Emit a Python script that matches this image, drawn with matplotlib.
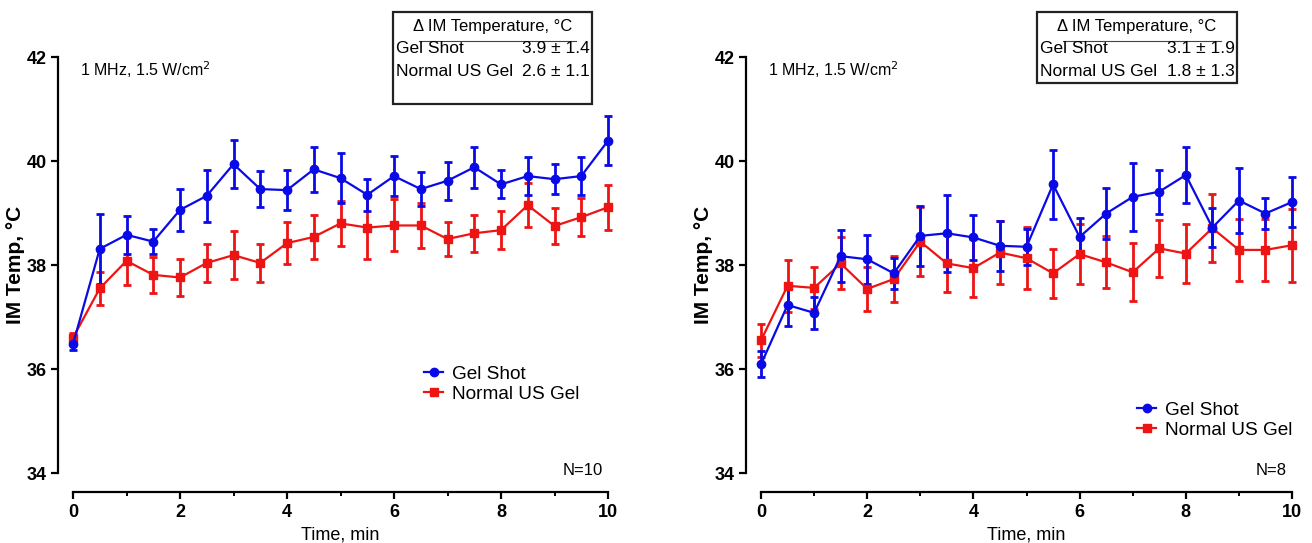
# Recreate IM temperature vs time figure (two panels)

import numpy as np
import matplotlib.pyplot as plt
from matplotlib.lines import Line2D

plt.rcParams['font.family'] = ['Liberation Sans', 'DejaVu Sans']

# Data (mean and SEM, deg C)
time_min = [0, 0.5, 1, 1.5, 2, 2.5, 3, 3.5, 4, 4.5, 5,
            5.5, 6, 6.5, 7, 7.5, 8, 8.5, 9, 9.5, 10]

# Left panel, N=10
gel_shot_left = [36.48, 38.31, 38.58, 38.45, 39.06, 39.33, 39.94, 39.46, 39.44, 39.84, 39.67,
                 39.35, 39.71, 39.46, 39.62, 39.88, 39.55, 39.71, 39.65, 39.71, 40.39]
gel_shot_left_err = [0.12, 0.67, 0.36, 0.24, 0.41, 0.50, 0.46, 0.34, 0.39, 0.43, 0.48,
                     0.31, 0.38, 0.33, 0.37, 0.39, 0.27, 0.37, 0.29, 0.37, 0.47]
normal_left = [36.6, 37.55, 38.08, 37.81, 37.76, 38.04, 38.19, 38.04, 38.42, 38.54, 38.80,
               38.72, 38.76, 38.76, 38.50, 38.61, 38.67, 39.15, 38.75, 38.92, 39.11]
normal_left_err = [0.1, 0.32, 0.47, 0.35, 0.36, 0.36, 0.46, 0.36, 0.40, 0.43, 0.43,
                   0.60, 0.50, 0.44, 0.33, 0.36, 0.36, 0.42, 0.35, 0.36, 0.43]

# Right panel, N=8
gel_shot_right = [36.09, 37.23, 37.08, 38.17, 38.11, 37.84, 38.56, 38.61, 38.53, 38.37, 38.35,
                  39.55, 38.54, 38.99, 39.31, 39.41, 39.73, 38.72, 39.24, 38.99, 39.21]
gel_shot_right_err = [0.25, 0.40, 0.31, 0.50, 0.47, 0.30, 0.57, 0.74, 0.43, 0.48, 0.35,
                      0.66, 0.36, 0.49, 0.65, 0.42, 0.53, 0.37, 0.62, 0.30, 0.48]
normal_right = [36.55, 37.60, 37.56, 38.03, 37.54, 37.73, 38.45, 38.03, 37.94, 38.24, 38.13,
                37.84, 38.21, 38.05, 37.86, 38.32, 38.22, 38.71, 38.29, 38.29, 38.38]
normal_right_err = [0.31, 0.50, 0.40, 0.50, 0.42, 0.45, 0.66, 0.55, 0.56, 0.60, 0.60,
                    0.47, 0.57, 0.50, 0.56, 0.55, 0.57, 0.66, 0.60, 0.60, 0.70]

# Summary boxes
box_labels = ["Gel Shot", "Normal US Gel"]
box_left_vals = ["3.9 \u00b1 1.4", "2.6 \u00b1 1.1"]
box_right_vals = ["3.1 \u00b1 1.9", "1.8 \u00b1 1.3"]
n_left = "N=10"
n_right = "N=8"

blue = '#0a0ae6'
red = '#ee1414'

fig = plt.figure(figsize=(13.12, 5.43), dpi=100)
ax1 = fig.add_axes([73 / 1312, 70 / 543, 535 / 1312, 416 / 543])
ax2 = fig.add_axes([761 / 1312, 70 / 543, 531 / 1312, 416 / 543])


def draw_panel(ax, gs, gs_err, nu, nu_err, n_text, box_vals, box_pos, box_h, legend_anchor):
    ax.errorbar(time_min, nu, yerr=nu_err, color=red, marker='s', markersize=5.5,
                lw=1.6, elinewidth=2, capsize=3, capthick=2, clip_on=False)
    ax.errorbar(time_min, gs, yerr=gs_err, color=blue, marker='o', markersize=6,
                lw=1.6, elinewidth=2, capsize=3, capthick=2, clip_on=False)

    ax.set_xlim(0, 10)
    ax.set_ylim(34, 42)
    ax.set_xticks([0, 2, 4, 6, 8, 10])
    ax.set_xticks([1, 3, 5, 7, 9], minor=True)
    ax.set_yticks([34, 36, 38, 40, 42])
    ax.spines['top'].set_visible(False)
    ax.spines['right'].set_visible(False)
    ax.spines['left'].set_position(('outward', 11))
    ax.spines['bottom'].set_position(('outward', 14))
    ax.spines['left'].set_bounds(34, 42)
    ax.spines['bottom'].set_bounds(0, 10)
    for s in ['left', 'bottom']:
        ax.spines[s].set_linewidth(1.6)
    ax.tick_params(axis='both', which='major', length=5, width=1.6, labelsize=13, pad=3)
    ax.tick_params(axis='x', which='minor', length=3, width=1.4)
    for lab in ax.get_xticklabels() + ax.get_yticklabels():
        lab.set_fontweight('bold')

    ax.set_xlabel("Time, min", fontsize=13, labelpad=4)
    ax.set_ylabel("IM Temp, \u00b0C", fontsize=15, fontweight='bold', labelpad=1)

    ax.text(0.013, 0.995, "1 MHz, 1.5 W/cm$^2$", transform=ax.transAxes,
            fontsize=11.5, va='top', ha='left')
    ax.text(0.99, -0.012, n_text, transform=ax.transAxes, fontsize=12,
            va='bottom', ha='right')

    # legend
    handles = [Line2D([], [], color=blue, marker='o', markersize=6, lw=1.6),
               Line2D([], [], color=red, marker='s', markersize=5.5, lw=1.6)]
    ax.legend(handles, ["Gel Shot", "Normal US Gel"], loc='upper left',
              bbox_to_anchor=legend_anchor, frameon=False, fontsize=13.7,
              handlelength=1.0, handletextpad=0.45, labelspacing=0.15, borderpad=0)

    # summary box
    bx, by, bw = box_pos
    rect = plt.Rectangle((bx, by - box_h), bw, box_h, transform=fig.transFigure,
                         fill=False, lw=1.6, ec='#222222')
    fig.add_artist(rect)
    fig.text(bx + bw / 2, by - 0.012, "\u0394 IM Temperature, \u00b0C",
             ha='center', va='top', fontsize=12)
    fig.add_artist(Line2D([bx + 0.02, bx + bw - 0.012], [by - 0.054, by - 0.054],
                          transform=fig.transFigure, color='#444444', lw=0.8))
    for i, (lab, val) in enumerate(zip(box_labels, box_vals)):
        yy = by - 0.053 - i * 0.042
        fig.text(bx + 0.002, yy, lab, ha='left', va='top', fontsize=12.5)
        fig.text(bx + bw - 0.002, yy, val, ha='right', va='top', fontsize=12.5)


draw_panel(ax1, gel_shot_left, gel_shot_left_err, normal_left, normal_left_err,
           n_left, box_left_vals, (393 / 1312, 1 - 12 / 543, 199 / 1312), 92 / 543,
           (0.639, 0.282))
draw_panel(ax2, gel_shot_right, gel_shot_right_err, normal_right, normal_right_err,
           n_right, box_right_vals, (1037 / 1312, 1 - 12 / 543, 200 / 1312), 71 / 543,
           (0.691, 0.195))

fig.savefig("out.png", dpi=100)
